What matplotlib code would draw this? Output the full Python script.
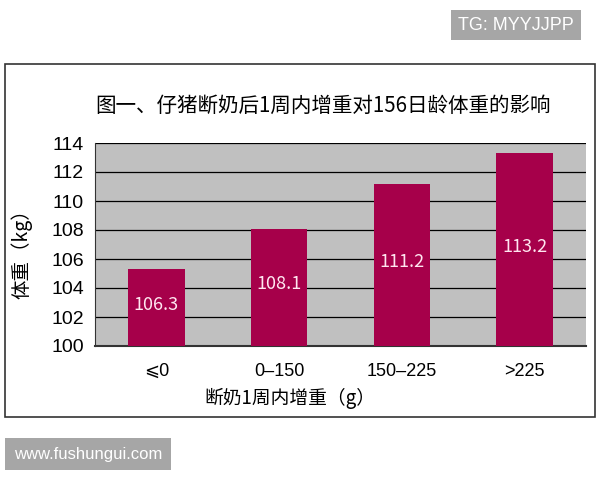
import matplotlib.pyplot as plt
from matplotlib.patches import Rectangle

# data
groups = ["⩽0", "0–150", "150–225", ">225"]
bar_heights = [105.3, 108.1, 111.2, 113.3]
bar_labels = ["106.3", "108.1", "111.2", "113.2"]
y_ticks = [100, 102, 104, 106, 108, 110, 112, 114]

cjk = ["Noto Sans CJK SC", "DejaVu Sans"]
num = ["Liberation Sans", "DejaVu Sans", "Noto Sans CJK SC"]

fig = plt.figure(figsize=(6, 4.8), dpi=100)
fig.patch.set_facecolor("white")

# outer frame around the chart
fig.patches.append(Rectangle((5 / 600, 1 - 417 / 480), 590 / 600, 353 / 480,
                             transform=fig.transFigure, fill=False,
                             edgecolor="#333333", linewidth=1.2))

ax = fig.add_axes([95 / 600, 1 - 346 / 480, 491 / 600, 203 / 480])
ax.set_facecolor("#c0c0c0")
ax.set_axisbelow(True)
ax.yaxis.grid(True, color="black", linewidth=0.9)

x = range(len(groups))
ax.bar(x, [h - 100 for h in bar_heights], bottom=100, width=0.46,
       color="#a6004a", zorder=3)
for i, (h, lab) in enumerate(zip(bar_heights, bar_labels)):
    ax.text(i, (h + 100) / 2 + 0.2, lab, ha="center", va="center",
            color="#ffe6f0", fontsize=13, family=cjk, zorder=4)

ax.set_xlim(-0.5, 3.5)
ax.set_ylim(100, 114)
ax.set_yticks(y_ticks)
ax.set_xticks(list(x))
ax.set_xticklabels(groups)
ax.tick_params(length=0, labelsize=14, pad=8)
ax.tick_params(axis="x", labelsize=13, pad=12)
for t in ax.get_yticklabels() + ax.get_xticklabels():
    t.set_family(num)

for s in ["top", "right"]:
    ax.spines[s].set_visible(False)
ax.spines["left"].set_color("#333333")
ax.spines["bottom"].set_color("#333333")
ax.spines["bottom"].set_linewidth(1.5)

fig.text(323 / 600, 1 - 106 / 480, "图一、仔猪断奶后1周内增重对156日龄体重的影响",
         ha="center", va="center", fontsize=14.8, family=cjk)
fig.text(22 / 600, 1 - 249 / 480, "体重（kg）", rotation=90,
         ha="center", va="center", fontsize=14, family=cjk)
fig.text(290 / 600, 1 - 398 / 480, "断奶1周内增重（g）",
         ha="center", va="center", fontsize=13.5, family=cjk)

# watermark boxes
fig.text(516 / 600, 1 - 25 / 480, "TG: MYYJJPP", ha="center", va="center",
         color="white", fontsize=13, family=num,
         bbox=dict(facecolor="#a6a6a6", edgecolor="none", pad=5))
fig.text(88 / 600, 1 - 454 / 480, "www.fushungui.com", ha="center", va="center",
         color="white", fontsize=12, family=num,
         bbox=dict(facecolor="#a6a6a6", edgecolor="none", pad=6))

fig.savefig("out.png", dpi=100)
